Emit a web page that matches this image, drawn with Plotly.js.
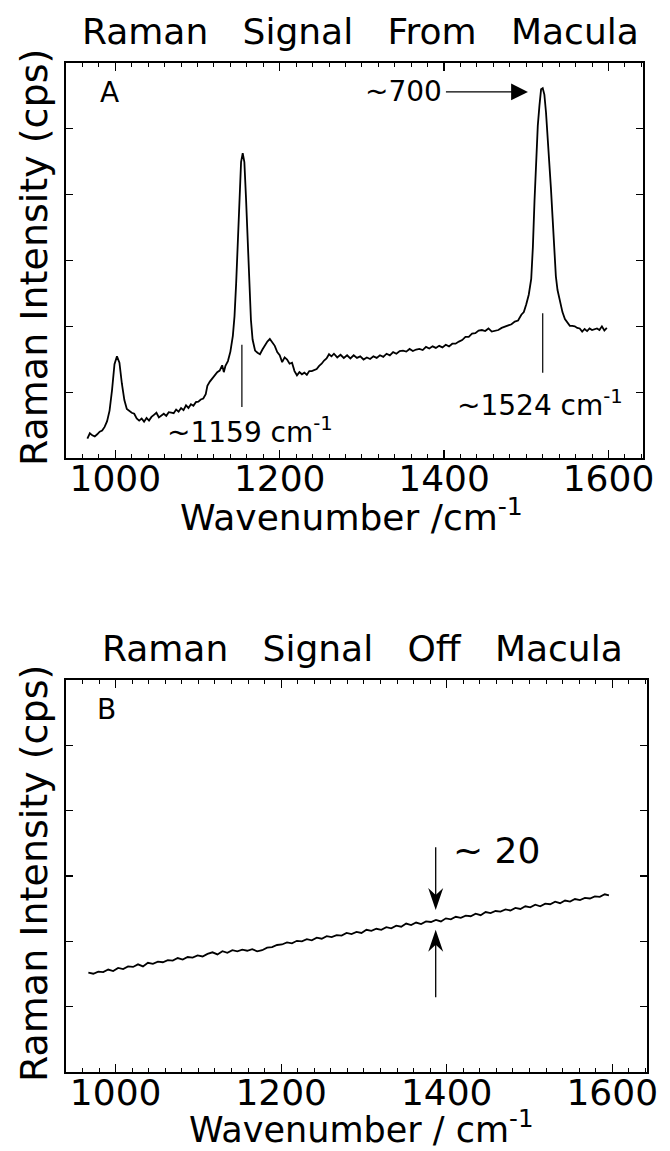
<!DOCTYPE html>
<html>
<head>
<meta charset="utf-8">
<script src="https://cdn.plot.ly/plotly-3.0.1.min.js"></script>
<style>html,body{margin:0;padding:0;background:#fff;}#chart{width:670px;height:1151px;}</style>
</head>
<body>
<div id="chart"></div>
<script>
// ---- Panel A: Raman signal from macula (wavenumber cm^-1, intensity cps) ----
const maculaWavenumber = [966,969,972,975,978,981,984,987,990,993,996,999,1002,1005,1008,1011,1014,1017,1020,1023,1026,1029,1032,1035,1038,1041,1044,1047,1050,1053,1056,1059,1062,1065,1068,1071,1074,1077,1080,1083,1086,1089,1092,1095,1098,1101,1104,1107,1110,1112,1115,1118,1121,1124,1127,1130,1132,1134,1137,1140,1143,1145,1147,1149,1151,1153,1155,1157,1159,1161,1163,1165,1167,1170,1173,1176,1179,1182,1185,1188,1191,1194,1197,1200,1203,1206,1209,1212,1215,1218,1221,1224,1227,1230,1233,1236,1239,1242,1245,1248,1251,1254,1257,1260,1263,1266,1270,1274,1278,1282,1286,1290,1294,1298,1302,1306,1310,1314,1318,1322,1326,1330,1334,1338,1342,1346,1350,1354,1358,1362,1366,1370,1374,1378,1382,1386,1390,1394,1398,1402,1406,1410,1414,1418,1422,1426,1430,1434,1438,1442,1446,1450,1454,1458,1462,1466,1470,1474,1478,1482,1486,1490,1494,1497,1500,1503,1506,1508,1510,1512,1514,1516,1518,1520,1522,1524,1526,1528,1530,1532,1534,1536,1538,1541,1544,1547,1550,1553,1556,1559,1562,1565,1568,1571,1574,1577,1580,1583,1586,1589,1592,1595,1598];
const maculaIntensity = [37,47,43,41,45,50,52,59,70,90,129,178,193,181,141,110,93,89,86,84,75,71,75,69,76,71,78,82,86,77,81,84,80,87,86,85,92,88,95,91,100,95,102,99,106,107,111,113,121,137,145,151,155,163,166,176,163,175,184,202,232,269,331,412,494,562,579,562,494,412,337,262,225,204,200,197,206,214,221,226,219,213,201,195,182,191,187,179,181,165,157,163,159,162,158,165,165,167,169,175,179,185,189,197,193,198,191,196,190,195,189,195,190,193,187,191,188,193,190,195,192,198,195,201,198,203,204,202,207,203,206,207,205,211,208,212,209,213,210,215,212,217,217,221,224,230,230,236,237,242,243,241,246,240,241,243,247,249,252,254,259,261,272,277,292,310,340,400,488,562,631,669,700,702,690,656,612,569,512,456,394,345,319,297,277,264,258,251,251,250,247,246,240,245,241,246,243,244,246,243,250,242,247];

// ---- Panel B: Raman signal off macula ----
const offWavenumber = [967,973,979,985,991,997,1003,1009,1015,1021,1027,1033,1039,1045,1051,1057,1063,1069,1075,1081,1087,1093,1099,1105,1111,1117,1123,1129,1135,1141,1147,1153,1159,1165,1171,1177,1183,1189,1195,1201,1207,1213,1219,1225,1231,1237,1243,1249,1255,1261,1267,1273,1279,1285,1291,1297,1303,1309,1315,1321,1327,1333,1339,1345,1351,1357,1363,1369,1375,1381,1387,1393,1399,1405,1411,1417,1423,1429,1435,1441,1447,1453,1459,1465,1471,1477,1483,1489,1495,1501,1507,1513,1519,1525,1531,1537,1543,1549,1555,1561,1567,1573,1579,1585,1591,1596];
const offIntensity = [190,188,192,191,196,193,199,197,202,201,206,202,209,207,211,210,214,213,218,215,220,219,223,221,226,229,225,231,228,233,231,234,232,235,231,233,238,239,243,244,248,246,251,250,254,252,257,255,260,258,262,261,266,264,268,266,272,270,274,272,277,275,280,278,284,281,286,283,288,287,291,288,294,292,297,295,299,298,303,300,306,304,308,307,311,309,314,312,317,315,320,317,322,321,326,323,328,326,331,329,333,332,336,335,340,338];

// ---- tick values and texts ----
const xLabelTicks = [1000, 1200, 1400, 1600];
const xHundredTicks = [1100, 1300, 1500];
const xMinorStep = 20;
const titleA = 'Raman\u00a0\u00a0\u00a0Signal\u00a0\u00a0\u00a0From\u00a0\u00a0\u00a0Macula';
const titleB = 'Raman\u00a0\u00a0\u00a0Signal\u00a0\u00a0\u00a0Off\u00a0\u00a0\u00a0Macula';
const yTitle = 'Raman Intensity (cps)';
const xTitleA = 'Wavenumber /cm<sup>-1</sup>';
const xTitleB = 'Wavenumber / cm<sup>-1</sup>';

const FONT = 'DejaVu Sans, Liberation Sans, sans-serif';
const W = 670, H = 1151;
const px = v => v / W;
const py = v => 1 - v / H;
const XRANGE = [940, 1642];

function xAxis(domain, anchor) {
  return {
    domain: domain, anchor: anchor, range: XRANGE,
    tickmode: 'array', tickvals: xLabelTicks,
    ticks: 'inside', ticklen: 8, tickwidth: 1.3, tickcolor: '#000',
    minor: {tickmode: 'linear', tick0: 1000, dtick: xMinorStep, ticks: 'inside', ticklen: 4, tickwidth: 1, tickcolor: '#000', showgrid: false},
    showline: true, linecolor: '#000', linewidth: 1.6, mirror: 'allticks',
    showgrid: false, zeroline: false,
    tickfont: {family: FONT, size: 36, color: '#000'},
    ticklabelstandoff: -12, fixedrange: true
  };
}
function xHundredAxis(over, anchor) {
  return {
    overlaying: over, anchor: anchor, range: XRANGE,
    tickmode: 'array', tickvals: xHundredTicks, showticklabels: false,
    ticks: 'inside', ticklen: 8, tickwidth: 1.3, tickcolor: '#000',
    showline: false, mirror: 'ticks', showgrid: false, zeroline: false, fixedrange: true
  };
}
function yAxis(domain, anchor) {
  return {
    domain: domain, anchor: anchor, range: [0, 750], tickmode: 'linear', tick0: 0, dtick: 125,
    ticks: 'inside', ticklen: 7, tickwidth: 1.3, tickcolor: '#000', showticklabels: false,
    showline: true, linecolor: '#000', linewidth: 1.6, mirror: 'allticks',
    showgrid: false, zeroline: false, fixedrange: true
  };
}

const traces = [
  {x: maculaWavenumber, y: maculaIntensity, xaxis: 'x', yaxis: 'y', type: 'scatter', mode: 'lines',
   line: {color: '#000', width: 1.8}, showlegend: false, hoverinfo: 'skip'},
  {x: offWavenumber, y: offIntensity, xaxis: 'x2', yaxis: 'y2', type: 'scatter', mode: 'lines',
   line: {color: '#000', width: 1.8}, showlegend: false, hoverinfo: 'skip'}
];

const tf = (size) => ({family: FONT, size: size, color: '#000'});
const annotations = [
  {xref: 'paper', yref: 'paper', x: px(360), y: py(32), text: titleA, showarrow: false, font: tf(36), xanchor: 'center', yanchor: 'middle'},
  {xref: 'paper', yref: 'paper', x: px(362), y: py(648), text: titleB, showarrow: false, font: tf(36), xanchor: 'center', yanchor: 'middle'},
  {xref: 'paper', yref: 'paper', x: px(34), y: py(258), text: yTitle, textangle: -90, showarrow: false, font: tf(38), xanchor: 'center', yanchor: 'middle'},
  {xref: 'paper', yref: 'paper', x: px(34), y: py(874), text: yTitle, textangle: -90, showarrow: false, font: tf(38), xanchor: 'center', yanchor: 'middle'},
  {xref: 'paper', yref: 'paper', x: px(351), y: py(515), text: xTitleA, showarrow: false, font: tf(36), xanchor: 'center', yanchor: 'middle'},
  {xref: 'paper', yref: 'paper', x: px(361), y: py(1151), text: xTitleB, showarrow: false, font: tf(35), xanchor: 'center', yanchor: 'bottom', borderpad: 0},
  // panel labels
  {xref: 'x', yref: 'y', x: 992.7, y: 694, text: 'A', showarrow: false, font: tf(28), xanchor: 'center', yanchor: 'middle'},
  {xref: 'x2', yref: 'y2', x: 989, y: 693, text: 'B', showarrow: false, font: tf(28), xanchor: 'center', yanchor: 'middle'},
  // panel A notes: "~700" with its arrow to the 1524 peak
  {xref: 'x', yref: 'y', x: 1502, y: 695, ax: -124, ay: 0, text: '~700', font: tf(28), showarrow: true,
   arrowhead: 2, arrowsize: 2.8, arrowwidth: 1.2, arrowcolor: '#000', standoff: 0, startstandoff: 2},
  {xref: 'x', yref: 'y', x: 1517, y: 104, text: '~1524 cm<sup>-1</sup>', showarrow: false, font: tf(28), xanchor: 'center', yanchor: 'middle'},
  {xref: 'x', yref: 'y', x: 1164, y: 53, text: '~1159 cm<sup>-1</sup>', showarrow: false, font: tf(28), xanchor: 'center', yanchor: 'middle'},
  // panel B note
  {xref: 'x2', yref: 'y2', x: 1405, y: 423, text: '~ 20', showarrow: false, font: tf(36), xanchor: 'left', yanchor: 'middle'}
];

const arrowX = 1386.7;
const shapes = [
  {type: 'line', xref: 'x', yref: 'y', x0: 1520, x1: 1520, y0: 162, y1: 275, line: {color: '#000', width: 1.2}},
  {type: 'line', xref: 'x', yref: 'y', x0: 1154, x1: 1154, y0: 97, y1: 215, line: {color: '#000', width: 1.2}},
  // panel B arrows (shafts in data units, heads in pixels anchored at the tips)
  {type: 'line', xref: 'x2', yref: 'y2', x0: arrowX, x1: arrowX, y0: 430, y1: 318, line: {color: '#000', width: 1.3}},
  {type: 'path', xref: 'x2', yref: 'y2', xsizemode: 'pixel', ysizemode: 'pixel', xanchor: arrowX, yanchor: 310,
   path: 'M0,0 L-7.5,22 L0,15 L7.5,22 Z', fillcolor: '#000', line: {width: 0}},
  {type: 'line', xref: 'x2', yref: 'y2', x0: arrowX, x1: arrowX, y0: 143, y1: 264, line: {color: '#000', width: 1.3}},
  {type: 'path', xref: 'x2', yref: 'y2', xsizemode: 'pixel', ysizemode: 'pixel', xanchor: arrowX, yanchor: 272,
   path: 'M0,0 L-7.5,-22 L0,-15 L7.5,-22 Z', fillcolor: '#000', line: {width: 0}}
];

const layout = {
  width: W, height: H, margin: {l: 0, r: 0, t: 0, b: 0},
  paper_bgcolor: '#fff', plot_bgcolor: '#fff', showlegend: false,
  xaxis: xAxis([px(66), px(643)], 'y'),
  yaxis: yAxis([py(458), py(63)], 'x'),
  xaxis2: xAxis([px(66), px(647)], 'y2'),
  yaxis2: yAxis([py(1072), py(680)], 'x2'),
  xaxis3: xHundredAxis('x', 'y'),
  xaxis4: xHundredAxis('x2', 'y2'),
  annotations: annotations, shapes: shapes
};

Plotly.newPlot('chart', traces, layout, {displayModeBar: false, staticPlot: true});
</script>
</body>
</html>
